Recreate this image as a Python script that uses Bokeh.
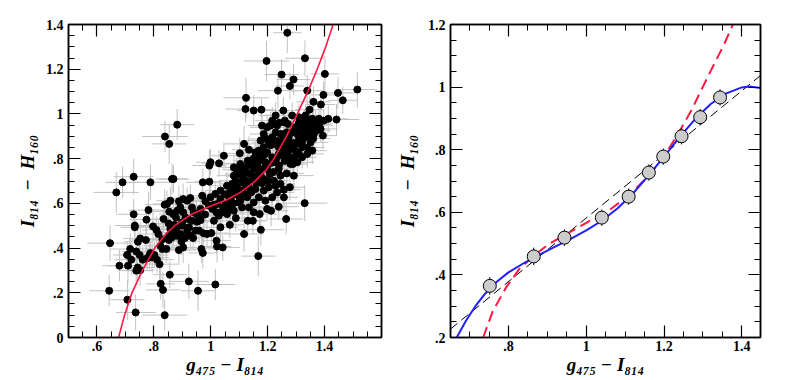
import numpy as np
from bokeh.plotting import figure
from bokeh.models import FixedTicker, LinearAxis, Range1d, ColumnDataSource
from bokeh.layouts import row
from bokeh.embed import file_html
from bokeh.resources import INLINE

# ---------------- data: left panel (x, y, x_err, y_err) ----------------
sparse_pts = [
    (1.269,1.363,0.05,0.09),(1.331,1.249,0.07,0.08),(1.196,1.237,0.08,0.09),(1.249,1.176,0.06,0.07),
    (1.401,1.179,0.05,0.08),(1.291,1.154,0.06,0.07),(1.278,1.125,0.05,0.06),(1.236,1.104,0.07,0.08),
    (1.339,1.104,0.06,0.07),(1.515,1.109,0.07,0.08),(1.447,1.094,0.06,0.07),(1.396,1.085,0.05,0.06),
    (1.124,1.072,0.08,0.09),(1.464,1.061,0.05,0.06),(1.361,1.054,0.06,0.07),(1.387,1.042,0.05,0.06),
    (1.122,1.022,0.07,0.06),(1.151,1.015,0.06,0.07),(1.178,1.019,0.05,0.05),(1.255,1.015,0.06,0.06),
    (1.347,1.019,0.05,0.06),(1.413,0.978,0.07,0.06),(1.442,0.975,0.08,0.07),(0.882,0.952,0.06,0.07),
    (0.839,0.899,0.08,0.07),(0.854,0.866,0.06,0.09),(1.394,0.903,0.05,0.06),(1.102,0.824,0.07,0.07),
    (1.134,0.840,0.06,0.06),(1.046,0.813,0.05,0.06),(1.117,0.866,0.07,0.08),(0.995,0.769,0.06,0.07),
    (0.999,0.784,0.05,0.06),(1.029,0.779,0.06,0.06),(0.729,0.719,0.07,0.08),(0.690,0.694,0.06,0.07),
    (0.788,0.694,0.07,0.08),(0.668,0.649,0.08,0.09),(0.864,0.709,0.06,0.07),(0.869,0.709,0.05,0.06),
    (0.972,0.694,0.06,0.06),(0.995,0.697,0.05,0.07),(1.292,0.724,0.07,0.07),(1.267,0.734,0.06,0.06),
    (1.289,0.776,0.05,0.07),(1.330,0.601,0.08,0.08),(1.265,0.530,0.06,0.07),(1.117,0.463,0.07,0.08),
    (1.176,0.482,0.08,0.07),(1.167,0.364,0.06,0.09),(0.781,0.570,0.07,0.08),(0.729,0.551,0.06,0.07),
    (0.733,0.501,0.07,0.06),(0.733,0.493,0.05,0.07),(0.774,0.527,0.06,0.06),(0.646,0.422,0.08,0.08),
    (0.643,0.209,0.07,0.07),(0.679,0.321,0.06,0.07),(0.706,0.369,0.05,0.06),(0.709,0.321,0.07,0.08),
    (0.707,0.169,0.06,0.09),(0.736,0.112,0.07,0.08),(0.838,0.100,0.08,0.07),(0.832,0.213,0.06,0.08),
    (0.824,0.240,0.05,0.07),(0.856,0.281,0.06,0.06),(0.923,0.251,0.07,0.08),(0.955,0.209,0.06,0.09),
    (1.016,0.237,0.07,0.07),(0.972,0.378,0.05,0.07),(0.967,0.396,0.06,0.06),(1.022,0.407,0.05,0.07),
    (1.042,0.403,0.06,0.06),(1.020,0.433,0.05,0.06),(1.034,0.493,0.06,0.07),(1.067,0.504,0.05,0.06),
    (1.088,0.534,0.06,0.06),(1.104,0.612,0.05,0.06),(1.130,0.522,0.06,0.07),(1.148,0.522,0.05,0.06),
    (1.212,0.567,0.06,0.07),(1.239,0.585,0.07,0.06),(1.257,0.661,0.06,0.07),(1.278,0.672,0.05,0.06),
]
lower_pts = [
    (0.752,0.443,0.06,0.07),(0.744,0.428,0.05,0.06),(0.772,0.436,0.06,0.06),(0.717,0.396,0.07,0.07),
    (0.738,0.385,0.05,0.06),(0.750,0.369,0.06,0.07),(0.761,0.348,0.05,0.06),(0.776,0.354,0.06,0.05),
    (0.784,0.366,0.05,0.06),(0.794,0.358,0.06,0.07),(0.802,0.369,0.05,0.06),(0.811,0.348,0.06,0.06),
    (0.820,0.328,0.07,0.07),(0.743,0.313,0.06,0.06),(0.752,0.301,0.05,0.07),(0.738,0.299,0.06,0.06),
    (0.721,0.348,0.06,0.07),(0.788,0.378,0.05,0.05),(0.816,0.463,0.06,0.06),(0.830,0.439,0.05,0.06),
    (0.823,0.410,0.06,0.07),(0.844,0.396,0.05,0.06),(0.830,0.396,0.06,0.05),(0.853,0.436,0.05,0.06),
    (0.864,0.448,0.06,0.06),(0.852,0.455,0.05,0.05),(0.858,0.485,0.06,0.06),(0.869,0.470,0.05,0.06),
    (0.873,0.504,0.06,0.07),(0.852,0.510,0.05,0.06),(0.854,0.563,0.06,0.06),(0.838,0.594,0.07,0.07),
    (0.846,0.597,0.05,0.06),(0.834,0.530,0.06,0.06),(0.797,0.497,0.06,0.07),(0.809,0.481,0.05,0.06),
    (0.882,0.455,0.06,0.06),(0.893,0.463,0.05,0.05),(0.897,0.430,0.06,0.06),(0.903,0.403,0.05,0.07),
    (0.888,0.391,0.06,0.06),(0.909,0.445,0.05,0.06),(0.917,0.475,0.06,0.05),(0.923,0.493,0.05,0.06),
    (0.928,0.455,0.06,0.06),(0.938,0.445,0.05,0.05),(0.946,0.478,0.06,0.06),(0.959,0.478,0.05,0.06),
    (0.975,0.466,0.06,0.05),(0.987,0.463,0.05,0.06),(1.002,0.467,0.06,0.06),(0.899,0.515,0.05,0.05),
    (0.911,0.537,0.06,0.06),(0.903,0.560,0.05,0.06),(0.893,0.582,0.06,0.06),(0.903,0.619,0.07,0.07),
    (0.917,0.612,0.05,0.06),(0.928,0.624,0.06,0.06),(0.934,0.582,0.05,0.05),(0.950,0.552,0.06,0.06),
    (0.964,0.575,0.05,0.06),(0.970,0.634,0.06,0.06),(0.981,0.609,0.05,0.05),(0.993,0.590,0.06,0.06),
    (1.011,0.594,0.05,0.06),(1.006,0.575,0.06,0.05),(0.964,0.525,0.05,0.06),(0.952,0.518,0.06,0.06),
    (0.934,0.522,0.05,0.05),(0.878,0.537,0.06,0.06),(0.868,0.552,0.05,0.06),(0.882,0.567,0.06,0.06),
    (0.858,0.612,0.05,0.06),(0.888,0.609,0.06,0.07),
]
middle_pts = [
    (1.022,0.597,0.05,0.06),(1.034,0.619,0.06,0.06),(1.043,0.582,0.05,0.05),(1.052,0.597,0.06,0.06),
    (1.063,0.604,0.05,0.06),(1.069,0.575,0.06,0.05),(1.081,0.567,0.05,0.06),(1.057,0.552,0.06,0.06),
    (1.028,0.545,0.05,0.06),(1.011,0.522,0.06,0.05),(1.081,0.640,0.05,0.06),(1.095,0.642,0.06,0.06),
    (1.104,0.657,0.05,0.05),(1.092,0.672,0.06,0.06),(1.110,0.694,0.05,0.06),(1.122,0.679,0.06,0.06),
    (1.134,0.672,0.05,0.05),(1.128,0.627,0.06,0.06),(1.142,0.649,0.05,0.06),(1.157,0.664,0.06,0.06),
    (1.151,0.701,0.05,0.05),(1.163,0.716,0.06,0.06),(1.175,0.731,0.05,0.06),(1.186,0.709,0.06,0.06),
    (1.166,0.761,0.05,0.05),(1.151,0.754,0.06,0.06),(1.137,0.734,0.05,0.06),(1.122,0.746,0.06,0.06),
    (1.130,0.791,0.05,0.06),(1.148,0.776,0.06,0.05),(1.180,0.806,0.05,0.06),(1.192,0.784,0.06,0.06),
    (1.198,0.754,0.05,0.05),(1.208,0.731,0.06,0.06),(1.222,0.701,0.05,0.06),(1.228,0.679,0.06,0.06),
    (1.204,0.672,0.05,0.05),(1.186,0.657,0.06,0.06),(1.169,0.627,0.05,0.06),(1.151,0.604,0.06,0.06),
    (1.134,0.582,0.05,0.05),(1.110,0.582,0.06,0.06),(1.151,0.560,0.05,0.06),(1.172,0.552,0.06,0.06),
    (1.192,0.612,0.05,0.05),(1.081,0.724,0.06,0.06),(1.075,0.687,0.05,0.06),(1.057,0.679,0.06,0.06),
    (1.069,0.657,0.05,0.05),(1.087,0.701,0.06,0.06),(1.099,0.731,0.05,0.06),(1.114,0.721,0.06,0.06),
    (1.034,0.657,0.05,0.05),(1.016,0.642,0.06,0.06),(0.999,0.627,0.05,0.06),(1.063,0.634,0.06,0.06),
    (1.099,0.604,0.05,0.05),(1.116,0.642,0.06,0.06),(1.081,0.761,0.05,0.06),(1.104,0.776,0.06,0.06),
    (1.157,0.828,0.05,0.05),(1.169,0.836,0.06,0.06),(1.186,0.851,0.05,0.06),(1.198,0.828,0.06,0.06),
    (1.216,0.806,0.05,0.05),(1.222,0.784,0.06,0.06),(1.239,0.754,0.05,0.06),(1.245,0.724,0.06,0.06),
    (1.245,0.687,0.05,0.05),(1.233,0.649,0.06,0.06),(1.257,0.627,0.05,0.06),(1.216,0.627,0.06,0.06),
    (1.198,0.575,0.05,0.05),
]
upper_pts = [
    (1.204,0.873,0.06,0.06),(1.216,0.896,0.05,0.06),(1.228,0.918,0.06,0.05),(1.222,0.866,0.05,0.06),
    (1.239,0.851,0.06,0.06),(1.251,0.881,0.05,0.05),(1.257,0.843,0.06,0.06),(1.239,0.821,0.05,0.06),
    (1.257,0.806,0.06,0.06),(1.271,0.828,0.05,0.05),(1.280,0.866,0.06,0.06),(1.292,0.843,0.05,0.06),
    (1.310,0.821,0.06,0.06),(1.321,0.851,0.05,0.05),(1.292,0.806,0.06,0.06),(1.310,0.884,0.05,0.06),
    (1.327,0.891,0.06,0.06),(1.339,0.918,0.05,0.05),(1.351,0.933,0.06,0.06),(1.362,0.910,0.05,0.06),
    (1.368,0.955,0.06,0.06),(1.380,0.978,0.05,0.05),(1.345,0.970,0.06,0.06),(1.327,0.955,0.05,0.06),
    (1.315,0.933,0.06,0.06),(1.298,0.940,0.05,0.05),(1.286,0.918,0.06,0.06),(1.268,0.918,0.05,0.06),
    (1.271,0.955,0.06,0.06),(1.257,0.963,0.05,0.05),(1.233,0.948,0.06,0.06),(1.210,0.948,0.05,0.06),
    (1.198,0.940,0.06,0.06),(1.180,0.948,0.05,0.05),(1.228,0.993,0.06,0.06),(1.286,0.993,0.05,0.06),
    (1.310,0.985,0.06,0.06),(1.333,0.993,0.05,0.05),(1.357,0.978,0.06,0.06),(1.371,0.925,0.05,0.06),
    (1.386,0.933,0.06,0.06),(1.397,0.970,0.05,0.05),(1.351,0.873,0.06,0.06),(1.357,0.836,0.05,0.06),
    (1.339,0.821,0.06,0.06),(1.321,0.806,0.05,0.05),(1.304,0.784,0.06,0.06),(1.280,0.776,0.05,0.06),
    (1.216,0.970,0.06,0.06),(1.186,0.910,0.05,0.05),(1.196,0.888,0.06,0.06),(1.175,0.881,0.05,0.06),
    (1.163,0.813,0.06,0.06),(1.257,0.910,0.05,0.05),(1.298,0.866,0.06,0.06),(1.274,0.896,0.05,0.06),
    (1.245,0.910,0.06,0.06),(1.304,0.910,0.05,0.05),
]
core_pts = [
    (1.05,0.64,0.05,0.06),(1.07,0.62,0.06,0.05),(1.09,0.66,0.05,0.06),(1.11,0.70,0.06,0.06),
    (1.13,0.70,0.05,0.05),(1.15,0.72,0.06,0.06),(1.17,0.74,0.05,0.06),(1.19,0.76,0.06,0.05),
    (1.21,0.78,0.05,0.06),(1.23,0.80,0.06,0.06),(1.25,0.82,0.05,0.05),(1.27,0.85,0.06,0.06),
    (1.29,0.87,0.05,0.06),(1.31,0.90,0.06,0.05),(1.33,0.94,0.05,0.06),(1.35,0.96,0.06,0.06),
    (1.20,0.70,0.05,0.05),(1.22,0.74,0.06,0.06),(1.24,0.77,0.05,0.06),(1.26,0.79,0.06,0.05),
    (1.28,0.80,0.05,0.06),(1.30,0.83,0.06,0.06),(1.32,0.87,0.05,0.05),(1.34,0.90,0.06,0.06),
    (1.36,0.95,0.05,0.06),(1.18,0.69,0.06,0.05),(1.16,0.69,0.05,0.06),(1.14,0.66,0.06,0.06),
    (1.12,0.64,0.05,0.05),(1.10,0.63,0.06,0.06),(1.08,0.60,0.05,0.06),(1.06,0.58,0.06,0.05),
    (1.04,0.56,0.05,0.06),(1.02,0.56,0.06,0.06),(0.98,0.55,0.05,0.05),(0.96,0.54,0.06,0.06),
    (0.94,0.56,0.05,0.06),(0.92,0.53,0.06,0.05),(0.90,0.50,0.05,0.06),(0.88,0.49,0.06,0.06),
    (1.21,0.86,0.05,0.05),(1.23,0.88,0.06,0.06),(1.25,0.86,0.05,0.06),(1.27,0.88,0.06,0.05),
    (1.29,0.92,0.05,0.06),(1.31,0.96,0.06,0.06),(1.33,0.97,0.05,0.05),(1.19,0.82,0.06,0.06),
    (1.17,0.79,0.05,0.06),(1.15,0.80,0.06,0.05),(1.13,0.77,0.05,0.06),(1.11,0.76,0.06,0.06),
    (1.09,0.75,0.05,0.05),(1.26,0.97,0.06,0.06),(1.24,0.96,0.05,0.06),(1.30,0.94,0.06,0.05),
    (1.32,0.92,0.05,0.06),(1.36,0.89,0.06,0.06),(1.38,0.95,0.05,0.05),(1.34,0.85,0.06,0.06),
]

# red fitted curve, left panel
left_fit_x = [0.676,0.697,0.723,0.760,0.803,0.840,0.873,0.930,0.998,1.057,1.104,1.151,1.195,1.222,
              1.266,1.304,1.341,1.374,1.404,1.430]
left_fit_y = [0.00,0.10,0.20,0.30,0.40,0.46,0.50,0.55,0.587,0.616,0.649,0.694,0.75,0.80,
              0.90,1.00,1.10,1.20,1.30,1.40]

# ---------------- data: right panel ----------------
bin_x = [0.752,0.865,0.944,1.040,1.109,1.161,1.198,1.245,1.293,1.344]
bin_y = [0.365,0.459,0.519,0.583,0.650,0.727,0.778,0.843,0.904,0.967]
bin_yerr = [0.028,0.028,0.026,0.026,0.026,0.026,0.026,0.026,0.026,0.026]

blue_x = [0.667,0.690,0.715,0.740,0.770,0.800,0.840,0.880,0.920,0.960,1.000,1.040,1.080,1.120,
          1.160,1.200,1.240,1.280,1.320,1.360,1.400,1.420,1.448]
blue_y = [0.200,0.252,0.300,0.340,0.378,0.408,0.438,0.465,0.490,0.515,0.542,0.573,0.612,0.660,
          0.717,0.778,0.840,0.898,0.946,0.980,0.999,1.002,0.997]

red_dash_x = [0.735,0.760,0.794,0.828,0.865,0.904,0.944,0.998,1.057,1.109,1.161,1.198,1.236,1.270,
              1.312,1.355,1.377]
red_dash_y = [0.200,0.285,0.360,0.419,0.461,0.499,0.527,0.565,0.605,0.653,0.717,0.776,0.850,0.925,
              1.032,1.138,1.200]

black_dash_x = [0.651,1.448]
black_dash_y = [0.227,1.037]

# ticks
left_xticks = [0.6,0.8,1.0,1.2,1.4]
left_xlabels = [".6",".8","1","1.2","1.4"]
left_yticks = [0.0,0.2,0.4,0.6,0.8,1.0,1.2,1.4]
left_ylabels = ["0",".2",".4",".6",".8","1","1.2","1.4"]
right_xticks = [0.8,1.0,1.2,1.4]
right_xlabels = [".8","1","1.2","1.4"]
right_yticks = [0.2,0.4,0.6,0.8,1.0,1.2]
right_ylabels = [".2",".4",".6",".8","1","1.2"]

XLABEL = "g\u2084\u2087\u2085 \u2212 I\u2088\u2081\u2084"
YLABEL = "I\u2088\u2081\u2084\u2002\u2212\u2002H\u2081\u2086\u2080"

SERIF = "Liberation Serif"


def minor(lo, hi):
    return [round(v, 2) for v in np.arange(lo, hi + 1e-9, 0.05)]


def style(p, xt, xl, xmin, yt, yl, ymin, ylab_standoff):
    bottom = p.below[0]
    left = p.left[0]
    p.grid.visible = False
    p.outline_line_color = "black"
    p.outline_line_width = 1.5
    bottom.ticker = FixedTicker(ticks=xt, minor_ticks=xmin)
    bottom.major_label_overrides = dict(zip(xt, xl))
    left.ticker = FixedTicker(ticks=yt, minor_ticks=ymin)
    left.major_label_overrides = dict(zip(yt, yl))
    extra_top = LinearAxis(ticker=FixedTicker(ticks=xt, minor_ticks=xmin))
    extra_right = LinearAxis(ticker=FixedTicker(ticks=yt, minor_ticks=ymin))
    p.add_layout(extra_top, "above")
    p.add_layout(extra_right, "right")
    for ax in (extra_top, extra_right):
        ax.major_label_text_color = None
        ax.major_label_text_font_size = "1px"
        ax.major_label_standoff = 0
    for ax in (bottom, left, extra_top, extra_right):
        ax.axis_line_width = 1.5
        ax.axis_line_color = "black"
        ax.major_tick_in = 12
        ax.major_tick_out = 0
        ax.minor_tick_in = 6
        ax.minor_tick_out = 0
        ax.major_tick_line_width = 1.2
        ax.minor_tick_line_width = 1.0
        ax.major_tick_line_color = "black"
        ax.minor_tick_line_color = "black"
    for ax in (bottom, left):
        ax.major_label_text_font = SERIF
        ax.major_label_text_font_style = "bold"
        ax.major_label_text_font_size = "14px"
        ax.major_label_text_color = "black"
        ax.axis_label_text_font = SERIF
        ax.axis_label_text_font_style = "bold italic"
        ax.axis_label_text_font_size = "19px"
        ax.axis_label_text_color = "black"
    bottom.major_label_standoff = 3
    bottom.axis_label_standoff = 0
    left.major_label_standoff = 5
    left.axis_label_standoff = ylab_standoff
    bottom.axis_label = XLABEL
    left.axis_label = YLABEL
    left.major_label_orientation = "horizontal"


# ---------------- left figure ----------------
all_pts = sparse_pts + lower_pts + middle_pts + upper_pts + core_pts
px = np.array([q[0] for q in all_pts])
py = np.array([q[1] for q in all_pts])
pxe = np.array([q[2] for q in all_pts])
pye = np.array([q[3] for q in all_pts])

p1 = figure(width=393, height=378, x_range=Range1d(0.5, 1.6), y_range=Range1d(0.0, 1.4),
            output_backend="svg", toolbar_location=None,
            min_border_left=68, min_border_right=12, min_border_top=24, min_border_bottom=41)
style(p1, left_xticks, left_xlabels, minor(0.5, 1.6), left_yticks, left_ylabels, minor(0.0, 1.4), 5)

err = ColumnDataSource(dict(x=px, y=py, x0=px - pxe, x1=px + pxe, y0=py - pye, y1=py + pye))
p1.segment(x0="x0", y0="y", x1="x1", y1="y", source=err, line_color="#c2c2c2", line_width=1)
p1.segment(x0="x", y0="y0", x1="x", y1="y1", source=err, line_color="#c2c2c2", line_width=1)
p1.scatter(x="x", y="y", source=err, size=7, fill_color="black", line_color="black")
p1.line(left_fit_x, left_fit_y, line_color="#ff1744", line_width=1.6)

# ---------------- right figure ----------------
p2 = figure(width=380, height=378, x_range=Range1d(0.651, 1.448), y_range=Range1d(0.2, 1.2),
            output_backend="svg", toolbar_location=None,
            min_border_left=54, min_border_right=13, min_border_top=24, min_border_bottom=41)
style(p2, right_xticks, right_xlabels, minor(0.65, 1.45), right_yticks, right_ylabels, minor(0.2, 1.2), 7)

p2.line(black_dash_x, black_dash_y, line_color="black", line_width=1, line_dash="9 5")
p2.line(red_dash_x, red_dash_y, line_color="#ff1744", line_width=2, line_dash="11 6")
p2.line(blue_x, blue_y, line_color="#1f1fff", line_width=2)
bx = np.array(bin_x)
by = np.array(bin_y)
be = np.array(bin_yerr)
p2.segment(x0=bx, y0=by - be, x1=bx, y1=by + be, line_color="black", line_width=1)
p2.scatter(bx, by, size=13, fill_color="#cccccc", line_color="black", line_width=1)

layout = row(p1, p2)
open("out.html", "w").write(file_html(layout, INLINE))
